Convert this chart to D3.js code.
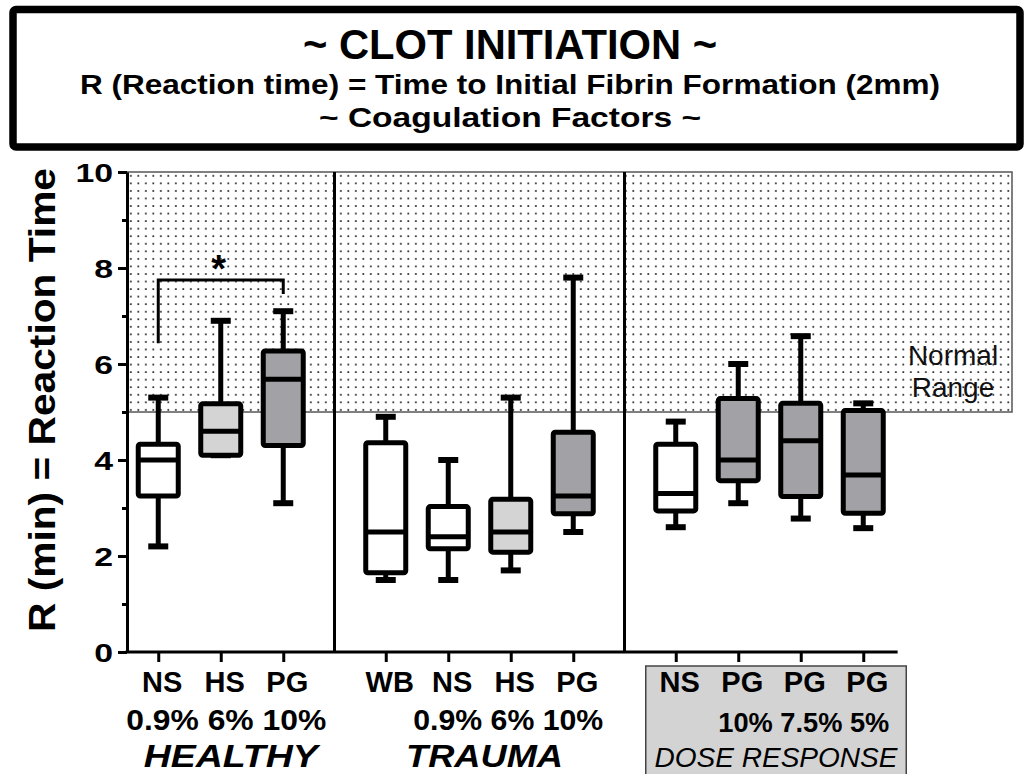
<!DOCTYPE html>
<html>
<head>
<meta charset="utf-8">
<script src="https://cdn.jsdelivr.net/npm/d3@7/dist/d3.min.js"></script>
<style>
  html, body { margin: 0; padding: 0; background: #fff; }
  svg { display: block; }
  text { font-family: "Liberation Sans", Arial, Helvetica, sans-serif; fill: #000; }
</style>
</head>
<body>
<svg id="chart" width="1030" height="774"></svg>
<script>
// ---------------- DATA ----------------
const titleLines = ["~ CLOT INITIATION ~",
  "R (Reaction time) = Time to Initial Fibrin Formation (2mm)",
  "~ Coagulation Factors ~"];
const yTitle = "R (min) = Reaction Time";
const categories = ["NS", "HS", "PG", "WB", "NS", "HS", "PG", "NS", "PG", "PG", "PG"];
const groupOf    = [0, 0, 0, 1, 1, 1, 1, 2, 2, 2, 2];
const fluidType  = ["ns", "hs", "pg", "wb", "ns", "hs", "pg", "ns", "pg", "pg", "pg"];
const groupNames = ["HEALTHY", "TRAUMA", "DOSE RESPONSE"];
const groupSubLabels = ["0.9% 6% 10%", "0.9% 6% 10%", "10% 7.5% 5%"];
const mins    = [2.2, 4.1, 3.1, 1.5, 1.5, 1.7, 2.5, 2.6, 3.1, 2.78, 2.58];
const q1s     = [3.25, 4.1, 4.3, 1.65, 2.15, 2.08, 2.88, 2.94, 3.57, 3.24, 2.89];
const medians = [4.0, 4.6, 5.68, 2.5, 2.4, 2.5, 3.25, 3.3, 4.0, 4.4, 3.69];
const q3s     = [4.33, 5.17, 6.27, 4.36, 3.03, 3.18, 4.58, 4.33, 5.28, 5.18, 5.03];
const maxs    = [5.3, 6.9, 7.1, 4.9, 4.0, 5.3, 7.8, 4.8, 6.0, 6.58, 5.18];
const yMajorTicks = [0, 2, 4, 6, 8, 10];
const yMinorTicks = [1, 3, 5, 7, 9];
const normalRange = [5, 10];
const normalLabel = ["Normal", "Range"];
const significance = { from: 0, to: 2, label: "*", top: 7.75, leftEnd: 6.43, rightEnd: 7.46 };

// ---------------- LAYOUT ----------------
const svg = d3.select("#chart");
const FONT = '"Liberation Sans", Arial, Helvetica, sans-serif';
const fillOf = { ns: "#ffffff", wb: "#ffffff", hs: "#d4d4d4", pg: "#a2a2a6" };
const groupGap = 0.64;
const slot = categories.map((c, i) => i + groupOf[i] * groupGap);

const plotTop = 172, plotBottom = 652, plotLeft = 127, shadeRight = 1012;
const y = d3.scaleLinear().domain([0, 10]).range([plotBottom, plotTop]);
const x = d3.scaleLinear().domain([-0.5, 13.66]).range([plotLeft, shadeRight]);

function widen(sel, factor) {
  sel.each(function () {
    const w = this.getComputedTextLength();
    d3.select(this).attr("textLength", w * factor).attr("lengthAdjust", "spacingAndGlyphs");
  });
}

// dot pattern
const defs = svg.append("defs");
const pat = defs.append("pattern").attr("id", "dots")
  .attr("patternUnits", "userSpaceOnUse").attr("width", 7.5).attr("height", 7.55)
  .attr("x", plotLeft).attr("y", plotTop);
pat.append("rect").attr("width", 7.5).attr("height", 7.55).attr("fill", "#fff");
pat.append("rect").attr("x", 3).attr("y", 3).attr("width", 1.7).attr("height", 1.7).attr("fill", "#222");

// ---------------- TITLE BOX ----------------
svg.append("rect").attr("x", 13).attr("y", 9.5).attr("width", 1007).attr("height", 137.5)
  .attr("rx", 3).attr("fill", "#fff").attr("stroke", "#000").attr("stroke-width", 7.5);
svg.append("text").attr("x", 510).attr("y", 59).attr("text-anchor", "middle")
  .attr("font-size", 42).attr("font-weight", "bold")
  .attr("textLength", 414).attr("lengthAdjust", "spacingAndGlyphs").text(titleLines[0]);
svg.append("text").attr("x", 510).attr("y", 94).attr("text-anchor", "middle")
  .attr("font-size", 27).attr("font-weight", "bold")
  .attr("textLength", 860).attr("lengthAdjust", "spacingAndGlyphs").text(titleLines[1]);
svg.append("text").attr("x", 510).attr("y", 127).attr("text-anchor", "middle")
  .attr("font-size", 27).attr("font-weight", "bold")
  .attr("textLength", 382).attr("lengthAdjust", "spacingAndGlyphs").text(titleLines[2]);

// ---------------- NORMAL RANGE SHADE ----------------
svg.append("rect").attr("x", plotLeft).attr("y", y(normalRange[1]))
  .attr("width", shadeRight - plotLeft).attr("height", y(normalRange[0]) - y(normalRange[1]))
  .attr("fill", "url(#dots)").attr("stroke", "#555").attr("stroke-width", 1.5);

svg.selectAll("text.normal").data(normalLabel).join("text").attr("class", "normal")
  .attr("x", 953).attr("y", (d, i) => 365 + i * 32).attr("text-anchor", "middle")
  .attr("font-size", 28).style("fill", "#111").text(d => d);

// ---------------- DIVIDERS ----------------
const dividers = [ (slot[2] + slot[3]) / 2, (slot[6] + slot[7]) / 2 ];
svg.selectAll("line.div").data(dividers).join("line").attr("class", "div")
  .attr("x1", d => x(d)).attr("x2", d => x(d))
  .attr("y1", plotTop).attr("y2", plotBottom)
  .attr("stroke", "#000").attr("stroke-width", 3);

// ---------------- AXES ----------------
const yMinor = svg.append("g").attr("transform", `translate(${plotLeft},0)`)
  .call(d3.axisLeft(y).tickValues(yMinorTicks).tickSize(5).tickFormat(""));
yMinor.select(".domain").remove();
yMinor.selectAll("line").attr("stroke", "#000").attr("stroke-width", 3);

const yAxis = svg.append("g").attr("transform", `translate(${plotLeft},0)`)
  .call(d3.axisLeft(y).tickValues(yMajorTicks).tickSize(9).tickSizeOuter(0).tickPadding(5));
yAxis.select(".domain").attr("stroke", "#000").attr("stroke-width", 3);
yAxis.selectAll(".tick line").attr("stroke", "#000").attr("stroke-width", 3);
yAxis.selectAll(".tick text").attr("font-family", FONT).attr("font-size", 26)
  .attr("font-weight", "bold").attr("fill", "#000").attr("dy", "0.36em");
widen(yAxis.selectAll(".tick text"), 1.3);

svg.append("text").attr("transform", "translate(55,400) rotate(-90)")
  .attr("text-anchor", "middle").attr("font-size", 37).attr("font-weight", "bold")
  .attr("textLength", 464).attr("lengthAdjust", "spacingAndGlyphs").text(yTitle);

const xAxis = svg.append("g").attr("transform", `translate(0,${plotBottom})`)
  .call(d3.axisBottom(x).tickValues(slot).tickSize(10).tickFormat(""));
xAxis.select(".domain").remove();
xAxis.selectAll(".tick line").attr("stroke", "#000").attr("stroke-width", 3);
svg.append("line").attr("x1", plotLeft - 1.5).attr("x2", x(slot[slot.length - 1] + 0.55))
  .attr("y1", plotBottom).attr("y2", plotBottom).attr("stroke", "#000").attr("stroke-width", 3);

// ---------------- DOSE RESPONSE BOX ----------------
const doseIdx = groupOf.map((g, i) => g === 2 ? i : -1).filter(i => i >= 0);
const doseL = x(slot[doseIdx[0]]) - 30, doseR = x(slot[doseIdx[doseIdx.length - 1]]) + 43;
svg.append("rect").attr("x", doseL).attr("y", 666).attr("width", doseR - doseL).attr("height", 120)
  .attr("fill", "#d3d3d3").attr("stroke", "#444").attr("stroke-width", 1.5);

// ---------------- CATEGORY LABELS ----------------
svg.selectAll("text.cat").data(categories).join("text").attr("class", "cat")
  .attr("x", (d, i) => x(slot[i]) + 4)
  .attr("y", 692).attr("text-anchor", "middle")
  .attr("font-size", 29)
  .attr("font-weight", "bold")
  .text(d => d);

// sub labels (concentrations)
const subStart = [x(slot[0]) - 32, x(slot[4]) - 35, x(slot[8]) - 20];
const subLen = [200, 190, 171];
svg.selectAll("text.sub").data(groupSubLabels).join("text").attr("class", "sub")
  .attr("x", (d, i) => subStart[i]).attr("y", (d, i) => i === 2 ? 732 : 730)
  .attr("font-size", (d, i) => i === 2 ? 27 : 29)
  .attr("font-weight", "bold")
  .attr("textLength", (d, i) => subLen[i]).attr("lengthAdjust", "spacingAndGlyphs")
  .text(d => d);

// group names
const groupCenter = [x(slot[1]) + 10, (x(slot[3]) + x(slot[6])) / 2 + 5, (doseL + doseR) / 2];
const groupLen = [174, 157, 243];
svg.selectAll("text.grp").data(groupNames).join("text").attr("class", "grp")
  .attr("x", (d, i) => groupCenter[i]).attr("y", 767).attr("text-anchor", "middle")
  .attr("font-size", (d, i) => i === 2 ? 28 : 31)
  .attr("font-weight", (d, i) => i === 2 ? "normal" : "bold")
  .attr("font-style", "italic")
  .attr("textLength", (d, i) => groupLen[i]).attr("lengthAdjust", "spacingAndGlyphs")
  .text(d => d);

// ---------------- BOXES ----------------
const boxes = categories.map((c, i) => ({
  cx: x(slot[i]), min: mins[i], q1: q1s[i], med: medians[i], q3: q3s[i], max: maxs[i], fill: fillOf[fluidType[i]]
}));
const bw = 40, capW = 20;
const bg = svg.append("g");
const b = bg.selectAll("g.box").data(boxes).join("g").attr("class", "box");
b.append("line").attr("x1", d => d.cx).attr("x2", d => d.cx)
  .attr("y1", d => y(d.max)).attr("y2", d => y(d.q3)).attr("stroke", "#000").attr("stroke-width", 5);
b.append("line").attr("x1", d => d.cx).attr("x2", d => d.cx)
  .attr("y1", d => y(d.q1)).attr("y2", d => y(d.min)).attr("stroke", "#000").attr("stroke-width", 5);
b.append("line").attr("x1", d => d.cx - capW / 2).attr("x2", d => d.cx + capW / 2)
  .attr("y1", d => y(d.max)).attr("y2", d => y(d.max)).attr("stroke", "#000").attr("stroke-width", 6);
b.append("line").attr("x1", d => d.cx - capW / 2).attr("x2", d => d.cx + capW / 2)
  .attr("y1", d => y(d.min)).attr("y2", d => y(d.min)).attr("stroke", "#000").attr("stroke-width", 6);
b.append("rect").attr("x", d => d.cx - bw / 2).attr("y", d => y(d.q3))
  .attr("width", bw).attr("height", d => y(d.q1) - y(d.q3)).attr("rx", 2)
  .attr("fill", d => d.fill).attr("stroke", "#000").attr("stroke-width", 5).attr("stroke-linejoin", "round");
b.append("line").attr("x1", d => d.cx - bw / 2).attr("x2", d => d.cx + bw / 2)
  .attr("y1", d => y(d.med)).attr("y2", d => y(d.med)).attr("stroke", "#000").attr("stroke-width", 5);

// ---------------- SIGNIFICANCE BRACKET ----------------
const sx1 = x(slot[significance.from]), sx2 = x(slot[significance.to]);
svg.append("path")
  .attr("d", `M${sx1},${y(significance.leftEnd)} V${y(significance.top)} H${sx2} V${y(significance.rightEnd)}`)
  .attr("fill", "none").attr("stroke", "#000").attr("stroke-width", 3);
svg.append("text").attr("x", (sx1 + sx2) / 2 - 2).attr("y", y(significance.top) + 2)
  .attr("text-anchor", "middle").attr("font-size", 38).attr("font-weight", "bold")
  .text(significance.label);
</script>
</body>
</html>
